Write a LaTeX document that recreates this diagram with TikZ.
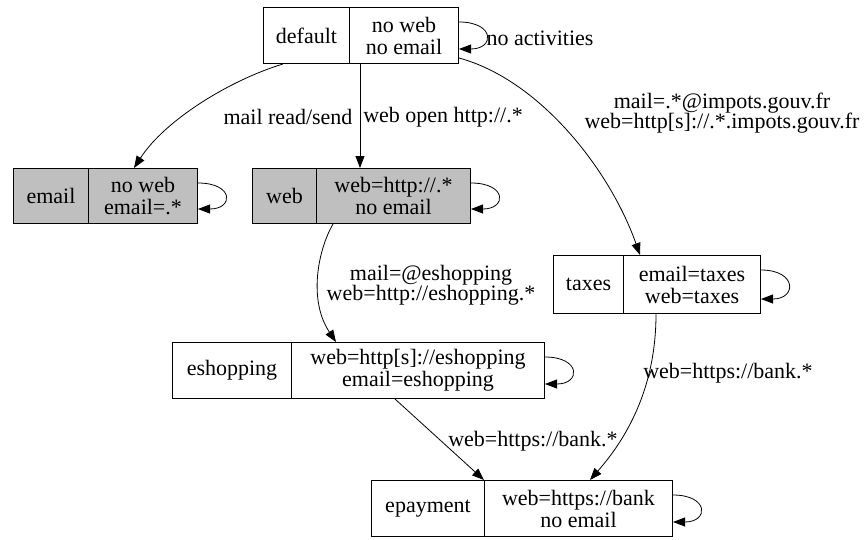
\documentclass[tikz,border=0pt]{standalone}
\usepackage{fontspec}
\setmainfont{Liberation Serif}
\usetikzlibrary{arrows.meta}
\newcommand\nodefont{\fontsize{22}{22}\selectfont\lineskiplimit=-30pt}
\newcommand\labfont{\fontsize{22}{20}\selectfont\lineskiplimit=-30pt}
\tikzset{
  part/.style={draw, line width=1pt, inner sep=0pt, anchor=north west, align=center, font=\nodefont},
  grayp/.style={part, fill=black!25},
  edge/.style={line width=0.8pt, -{Triangle[length=12pt,width=9pt]}},
  lab/.style={align=center, inner sep=0pt, font=\labfont},
}
\newcommand\selfloop[1]{\draw[edge] ([yshift=-15pt]#1.north east) .. controls +(36,0) and +(36,0) .. ([yshift=15pt]#1.south east);}
\begin{document}
\begin{tikzpicture}[x=1pt,y=-1pt]
\useasboundingbox (0,0) rectangle (868,539);
% default
\node[part, minimum width=86pt, minimum height=56pt] (defL) at (263,7) {default};
\node[part, minimum width=109pt, minimum height=56pt] (defR) at (349,7) {no web\\no email};
% email
\node[grayp, minimum width=75pt, minimum height=55pt] (emailL) at (13,168) {email};
\node[grayp, minimum width=109pt, minimum height=55pt] (emailR) at (88,168) {no web\\email=.*};
% web
\node[grayp, minimum width=64pt, minimum height=55pt] (webL) at (252,168) {web};
\node[grayp, minimum width=154pt, minimum height=55pt] (webR) at (316,168) {web=http://.*\\no email};
% taxes
\node[part, minimum width=70pt, minimum height=58pt] (taxL) at (553,255) {taxes};
\node[part, minimum width=137pt, minimum height=58pt] (taxR) at (623,255) {email=taxes\\web=taxes};
% eshopping
\node[part, minimum width=119pt, minimum height=56pt] (eshL) at (172,342) {eshopping};
\node[part, minimum width=253pt, minimum height=56pt] (eshR) at (291,342) {web=http[s]://eshopping\\email=eshopping};
% epayment
\node[part, minimum width=113pt, minimum height=56pt] (epL) at (371,480) {epayment};
\node[part, minimum width=188pt, minimum height=56pt] (epR) at (484,480) {web=https://bank\\no email};

% self loops
\selfloop{defR}
\selfloop{emailR}
\selfloop{webR}
\selfloop{taxR}
\selfloop{eshR}
\selfloop{epR}

% edges
\draw[edge] ([xshift=20pt]defL.south west) .. controls (230,80) and (165,120) .. ([xshift=-9pt]emailR.north);
\draw[edge] ([xshift=11pt]defR.south west) -- ([xshift=44pt]webR.north west);
\draw[edge] ([yshift=6pt]defR.south east) .. controls (540,80) and (610,170) .. ([xshift=17pt]taxR.north west);
\draw[edge] ([xshift=17pt]webR.south west) .. controls (318,250) and (308,300) .. ([xshift=45pt]eshR.north west);
\draw[edge] ([xshift=104pt]eshR.south west) -- ([xshift=-1pt]epL.north east);
\draw[edge] ([xshift=33pt]taxR.south west) .. controls (656,390) and (625,440) .. ([xshift=106pt]epR.north west);

% labels
\node[lab] (l0) at (540,38) {no activities};
\node[lab] (l1) at (288,117) {mail read/send};
\node[lab] (l2) at (443,117) {web open http://.*};
\node[lab] (l3) at (722,113) {mail=.*@impots.gouv.fr\\web=http[s]://.*.impots.gouv.fr};
\node[lab] (l4) at (431,285) {mail=@eshopping\\web=http://eshopping.*};
\node[lab] (l5) at (533,441) {web=https://bank.*};
\node[lab] (l6) at (728,373) {web=https://bank.*};
\end{tikzpicture}
\end{document}
